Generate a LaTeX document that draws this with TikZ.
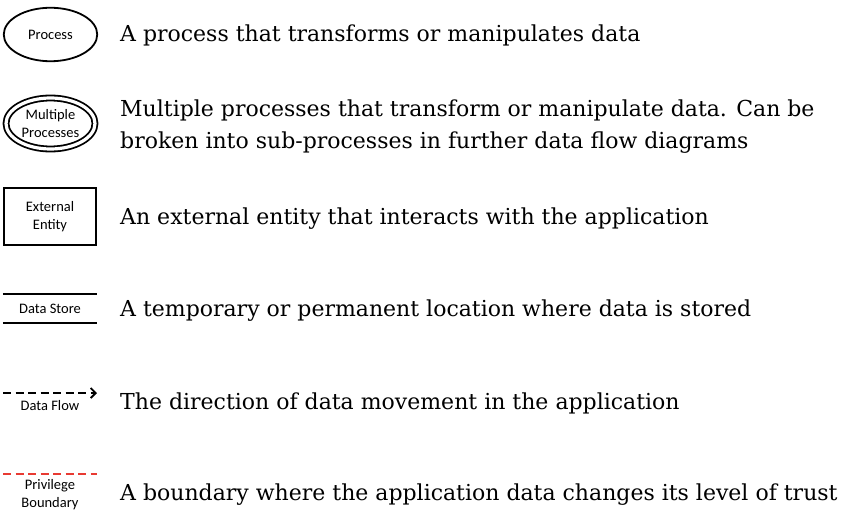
\documentclass[tikz,border=0pt]{standalone}
\usepackage{fontspec}
\setmainfont{DejaVu Serif}
\newfontfamily\labelfont{Carlito}
\usetikzlibrary{shapes.geometric,arrows.meta}
\definecolor{boundaryred}{RGB}{232,58,50}

\begin{document}
\begin{tikzpicture}[x=1pt,y=-1pt,
	symbol/.style={draw=black,line width=1.8pt,inner sep=0pt,align=center,
		font=\labelfont\fontsize{14.5}{18}\selectfont},
	caption/.style={inner sep=0pt,align=center,font=\labelfont\fontsize{14.5}{18}\selectfont},
	desc/.style={anchor=west,inner sep=0pt,align=left,font=\fontsize{22}{32}\selectfont}]
	\useasboundingbox (0,0) rectangle (843,516);
	% symbols
	\node[symbol,shape=ellipse,minimum width=93.5pt,minimum height=53.5pt] (process) at (50.5,34.5) {Process};
	\node[symbol,shape=ellipse,double,double distance=3.2pt,minimum width=89pt,minimum height=51pt] (multi) at (50.5,123.5) {Multiple\\Processes};
	\node[symbol,shape=rectangle,minimum width=92.2pt,minimum height=57.2pt] (entity) at (50,216.5) {External\\Entity};
	\node[caption,minimum width=94pt,minimum height=29pt] (store) at (50,308.5) {Data Store};
	\draw[line width=1.8pt] (store.north west) -- (store.north east);
	\draw[line width=1.8pt] (store.south west) -- (store.south east);
	\coordinate (flow1) at (3,393);
	\coordinate (flow2) at (97,393);
	\draw[line width=1.8pt,dash pattern=on 8pt off 4.5pt,-{Straight Barb[length=5pt,width=10pt]}] (flow1) -- (flow2);
	\node[caption] (flow) at (50,406) {Data Flow};
	\coordinate (bound1) at (3,474);
	\coordinate (bound2) at (97,474);
	\draw[boundaryred,line width=1.8pt,dash pattern=on 8pt off 4.5pt] (bound1) -- (bound2);
	\node[caption] (bound) at (50,495) {Privilege\\Boundary};
	% descriptions
	\foreach \i/\y/\t in {1/35/{A process that transforms or manipulates data},
		2/127/{Multiple processes that transform or manipulate data. Can be\\broken into sub-processes in further data flow diagrams},
		3/219/{An external entity that interacts with the application},
		4/311/{A temporary or permanent location where data is stored},
		5/403/{The direction of data movement in the application},
		6/495/{A boundary where the application data changes its level of trust}} {
		\node[desc] (desc\i) at (120,\y) {\t};
	}
\end{tikzpicture}
\end{document}
